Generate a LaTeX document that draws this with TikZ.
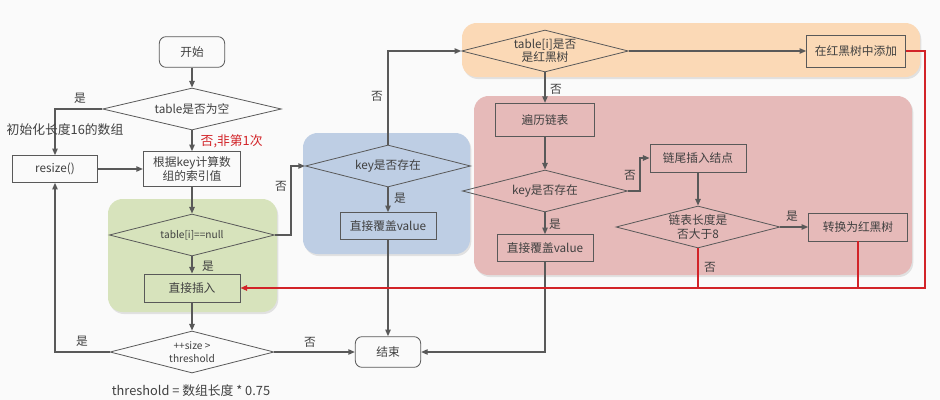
\documentclass[tikz,border=0pt]{standalone}
\usepackage{fontspec}
\setmainfont{Noto Sans CJK SC}
\usetikzlibrary{shapes.geometric,arrows.meta,shadows}
\definecolor{pagebg}{RGB}{250,250,250}
\definecolor{ink}{RGB}{64,64,64}
\definecolor{wire}{RGB}{89,89,89}
\definecolor{alert}{RGB}{210,35,40}
\definecolor{greenzone}{RGB}{215,227,188}
\definecolor{bluezone}{RGB}{190,206,228}
\definecolor{orangezone}{RGB}{251,217,182}
\definecolor{pinkzone}{RGB}{230,186,185}

\begin{document}
\begin{tikzpicture}
[x=0.75pt, y=-0.75pt,
every node/.style={text=ink, font=\fontsize{8.8}{10}\selectfont},
zone/.style={rounded corners=11pt, drop shadow={shadow xshift=1pt, shadow yshift=-1.5pt, opacity=0.2}},
process/.style={draw=wire, line width=0.6pt, minimum height=21pt, inner sep=2pt},
terminal/.style={draw=wire, line width=0.6pt, rounded corners=5pt, minimum width=49pt, minimum height=23pt},
decision/.style={draw=wire, line width=0.6pt, diamond, aspect=4, inner sep=0pt, align=center, minimum height=31.5pt},
small text/.style={font=\fontsize{7.6}{9.5}\selectfont},
flow/.style={draw=wire, line width=1.1pt, -{Triangle[length=5pt,width=4pt]}},
red flow/.style={draw=alert, line width=1.4pt},
note/.style={font=\fontsize{9.6}{11}\selectfont}]
\useasboundingbox (0,0) rectangle (940,400);
\fill[pagebg] (0,0) rectangle (940,400);
\fill[greenzone, zone] (108,199) rectangle (277,312);
\fill[bluezone, zone] (303,133) rectangle (470,254);
\fill[orangezone, zone] (462,23) rectangle (920,77);
\fill[pinkzone, zone] (474,96) rectangle (912,275);
\node[terminal] (start) at (192,52) {开始};
\node[decision, minimum width=134pt] (empty) at (192,109) {table是否为空};
\node[process, minimum width=64pt, minimum height=20pt] (resize) at (55,169) {resize()};
\node[process, minimum width=73pt, minimum height=26pt, align=center] (index) at (192,169) {根据key计算数\\组的索引值};
\node[decision, small text, minimum width=124pt] (isnull) at (192,235) {table[i]==null};
\node[process, minimum width=72pt] (insert) at (192,288) {直接插入};
\node[decision, small text, minimum width=123pt] (size) at (192,352) {++size >\\threshold};
\node[terminal] (stop) at (388,352) {结束};
\node[decision, minimum width=124pt] (keyone) at (388,166) {key是否存在};
\node[process, minimum width=72pt, minimum height=20pt] (coverone) at (388,226) {直接覆盖value};
\node[decision, minimum width=125pt] (istree) at (545,51) {table[i]是否\\是红黑树};
\node[process, minimum width=74pt, minimum height=24pt] (treeadd) at (856,51) {在红黑树中添加};
\node[process, minimum width=74pt, minimum height=25pt] (walk) at (545,120) {遍历链表};
\node[decision, minimum width=124pt] (keytwo) at (545,191) {key是否存在};
\node[process, minimum width=72pt, minimum height=20pt] (covertwo) at (545,248) {直接覆盖value};
\node[process, minimum width=72pt] (tail) at (698,158) {链尾插入结点};
\node[decision, minimum width=123pt] (longer) at (698,227) {链表长度是\\否大于8};
\node[process, minimum width=74pt] (totree) at (858,227) {转换为红黑树};
\draw[flow] (start) -- (empty);
\draw[flow] (empty) -- (index);
\draw[flow] (empty.west) -| (resize.north);
\draw[flow] (resize) -- (index);
\draw[flow] (index) -- (isnull);
\draw[flow] (isnull) -- (insert);
\draw[flow] (insert) -- (size);
\draw[flow] (size.west) -| (resize.south);
\draw[flow] (size) -- (stop);
\draw[flow] (isnull.east) -- ++(16,0) |- (keyone.west);
\draw[flow] (keyone.north) |- (istree.west);
\draw[flow] (keyone) -- (coverone);
\draw[flow] (coverone) -- (stop);
\draw[flow] (istree) -- (treeadd);
\draw[flow] (istree) -- (walk);
\draw[flow] (walk) -- (keytwo);
\draw[flow] (keytwo) -- (covertwo);
\draw[flow] (keytwo.east) -- ++(12,0) |- (tail.west);
\draw[flow] (tail) -- (longer);
\draw[flow] (longer) -- (totree);
\draw[flow] (covertwo.south) |- (stop.east);
\draw[red flow, -{Triangle[length=5pt,width=4pt]}] (treeadd.east) -- ++(19,0) |- (insert.east);
\draw[red flow] (totree.south) -- (totree.south |- insert.east);
\draw[red flow] (longer.south) -- (longer.south |- insert.east);
\node (yesempty) at (80,98) {是};
\node[note, anchor=west] (initlen) at (2,130) {初始化长度16的数组};
\node[note, anchor=west, text=alert] (notfirst) at (196,141) {否,非第1次};
\node (yesnull) at (208,266) {是};
\node (yessize) at (82,341) {是};
\node (nosize) at (310,342) {否};
\node[note] (formula) at (191,391) {threshold = 数组长度 * 0.75};
\node (nonull) at (281,186) {否};
\node (nokey) at (377,96) {否};
\node (yeskey) at (400,198) {是};
\node (notree) at (556,89) {否};
\node (yeskeytwo) at (555,224) {是};
\node (nokeytwo) at (630,175) {否};
\node (yeslonger) at (792,216) {是};
\node (nolonger) at (710,267) {否};
\end{tikzpicture}
\end{document}
